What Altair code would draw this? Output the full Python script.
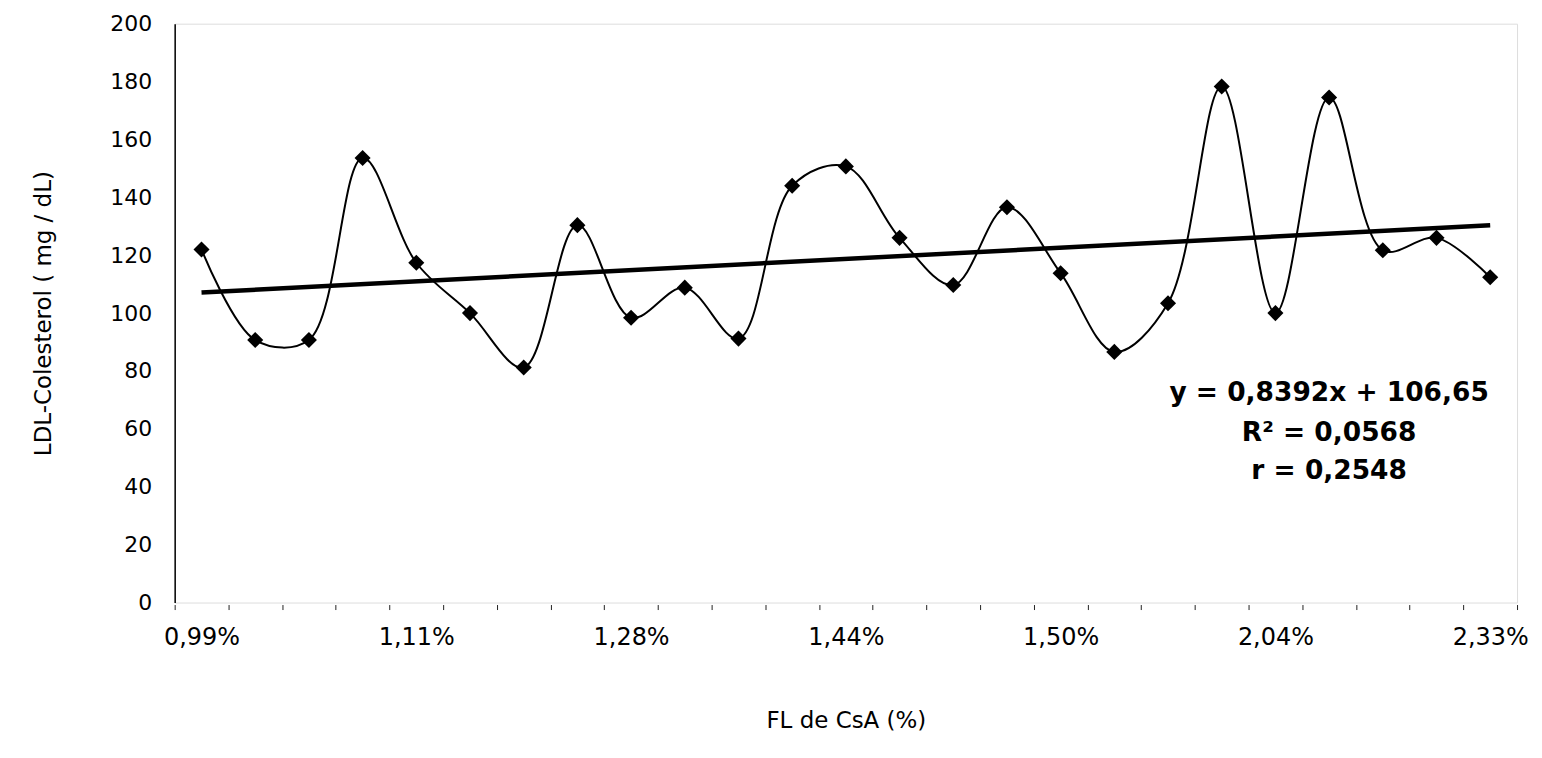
import altair as alt
import pandas as pd

# values (LDL-Colesterol, mg/dL), 25 samples in order
ldl = [122, 90.7, 90.7, 153.6, 117.4, 100, 81.2, 130.4, 98.4, 108.8,
       91.2, 144, 150.7, 126, 109.7, 136.6, 113.8, 86.6, 103.4, 178.3,
       100, 174.5, 121.7, 126, 112.4]
# x tick labels shown every 4th category
tick_labels = ["0,99%", "1,11%", "1,28%", "1,44%", "1,50%", "2,04%", "2,33%"]
label_step = 4

ann_lines = ["y = 0,8392x + 106,65", "R² = 0,0568", "r = 0,2548"]
ann_y = [72.5, 58.5, 45.5]
ann_idx = 21

idx = list(range(len(ldl)))
df = pd.DataFrame({"idx": idx, "x1": [i + 1 for i in idx], "ldl": ldl})

all_labels = [""] * len(ldl)
for k, lab in enumerate(tick_labels):
    all_labels[k * label_step] = lab
label_expr = "[" + ",".join("'" + s + "'" for s in all_labels) + "][datum.value]"

FONT = "DejaVu Sans"

x_enc = alt.X(
    "idx:O",
    scale=alt.Scale(paddingInner=0, paddingOuter=0, domain=idx),
    axis=alt.Axis(
        title="FL de CsA (%)",
        labelExpr=label_expr,
        labelAngle=0,
        tickBand="extent",
        domain=False,
        tickSize=5,
        tickColor="#222222",
        tickWidth=1,
        offset=2,
        labelPadding=16,
        labelFont=FONT,
        labelFontSize=24,
        labelColor="black",
        titleFont=FONT,
        titleFontSize=23,
        titleFontWeight="normal",
        titleColor="black",
        titlePadding=60,
    ),
)
y_enc = alt.Y(
    "ldl:Q",
    scale=alt.Scale(domain=[0, 200], nice=False),
    axis=alt.Axis(
        title="LDL-Colesterol  ( mg / dL)",
        values=list(range(0, 201, 20)),
        ticks=False,
        grid=False,
        domainColor="black",
        domainWidth=1.5,
        labelPadding=23,
        labelFont=FONT,
        labelFontSize=22,
        labelColor="black",
        titleFont=FONT,
        titleFontSize=23,
        titleFontWeight="normal",
        titleColor="black",
        titlePadding=54,
    ),
)

base = alt.Chart(df)

curve = base.mark_line(interpolate="catmull-rom", color="black", strokeWidth=2).encode(x=x_enc, y=y_enc)
pts = base.mark_point(shape="diamond", filled=True, size=260, color="black", opacity=1).encode(x=x_enc, y=y_enc)
trend = (
    base.transform_regression("x1", "ldl", method="linear")
    .transform_calculate(idx="datum.x1 - 1")
    .mark_line(color="black", strokeWidth=4.5)
    .encode(x=alt.X("idx:O"), y=alt.Y("ldl:Q"))
)

ann_df = pd.DataFrame({"idx": [ann_idx] * len(ann_lines), "ldl": ann_y, "txt": ann_lines})
ann = alt.Chart(ann_df).mark_text(
    font=FONT, fontSize=26.5, fontWeight="bold", color="black", align="center", baseline="middle"
).encode(x=alt.X("idx:O"), y=alt.Y("ldl:Q"), text="txt:N")

chart = (
    alt.layer(curve, trend, pts, ann)
    .properties(width=1345, height=580, padding={"left": 25, "top": 4, "right": 5, "bottom": 5})
    .configure_view(stroke=None)
    .configure(background="white")
)

chart.save("out.html", embed_options={"renderer": "svg", "actions": False})
